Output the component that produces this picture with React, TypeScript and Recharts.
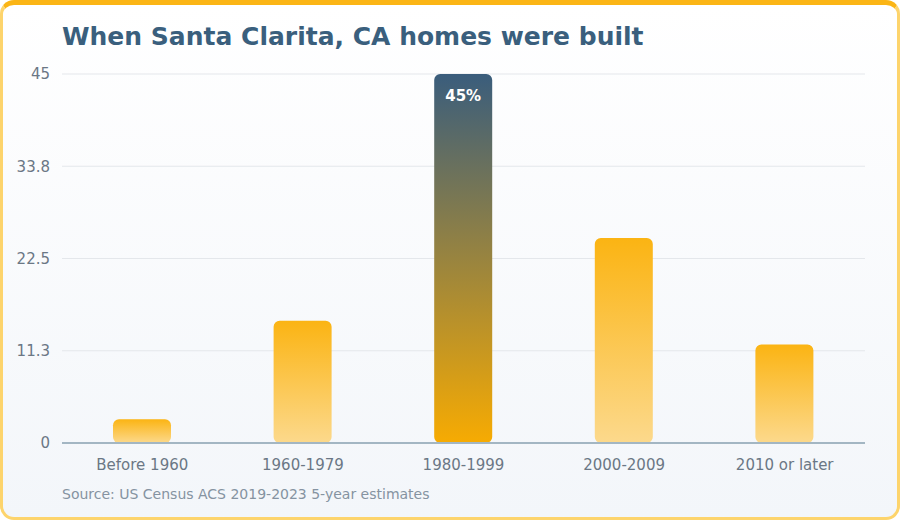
import React from 'react';
import { BarChart, Bar, XAxis, YAxis, CartesianGrid, Cell, LabelList } from 'recharts';

const categories = ['Before 1960', '1960-1979', '1980-1999', '2000-2009', '2010 or later'];
const shares = [2.9, 14.9, 45, 25.0, 12.0];
const yTicks = [0, 11.25, 22.5, 33.75, 45];
const yTickLabels = ['0', '11.3', '22.5', '33.8', '45'];
const highlightIndex = 2;

const data = categories.map((name, i) => ({ name, value: shares[i] }));

const FONT = '"DejaVu Sans", Verdana, sans-serif';

const PeakLabel = (props: any) => {
    const { x, y, width, index, value } = props;
    if (index !== highlightIndex) return null;
    return (
        <text
            x={x + width / 2}
            y={y + 22}
            textAnchor="middle"
            dominantBaseline="middle"
            fill="#ffffff"
            fontSize={15}
            fontWeight="bold"
            fontFamily={FONT}
        >
            {`${value}%`}
        </text>
    );
};

export default function App() {
    return (
        <div
            style={{
                position: 'relative',
                width: 900,
                height: 520,
                boxSizing: 'border-box',
                border: '3px solid #fdd46c',
                borderTop: '5px solid #fbb515',
                borderRadius: 14,
                background: 'linear-gradient(180deg, #ffffff 0%, #f3f6fa 100%)',
                overflow: 'hidden',
                fontFamily: FONT,
            }}
        >
            <style>{'body{margin:0}'}</style>
            <div style={{ position: 'absolute', left: -3, top: -5, width: 900, height: 520 }}>
                <BarChart
                    width={900}
                    height={520}
                    data={data}
                    margin={{ top: 74, right: 35, bottom: 47, left: 0 }}
                    barSize={58}
                >
                    <defs>
                        <linearGradient id="goldBar" x1="0" y1="0" x2="0" y2="1">
                            <stop offset="0%" stopColor="#fbb413" />
                            <stop offset="100%" stopColor="#fcd98c" />
                        </linearGradient>
                        <linearGradient id="peakBar" x1="0" y1="0" x2="0" y2="1">
                            <stop offset="0%" stopColor="#3a5d7c" />
                            <stop offset="100%" stopColor="#f7ab02" />
                        </linearGradient>
                    </defs>
                    <CartesianGrid vertical={false} stroke="#e4e7eb" />
                    <XAxis
                        dataKey="name"
                        height={30}
                        tickLine={false}
                        axisLine={{ stroke: '#a3b6c3', strokeWidth: 2 }}
                        tick={{ fill: '#6b7785', fontSize: 15, fontFamily: FONT }}
                        tickMargin={10}
                    />
                    <YAxis
                        width={62}
                        domain={[0, 45]}
                        ticks={yTicks}
                        tickFormatter={(v: number) => yTickLabels[yTicks.indexOf(v)] ?? String(v)}
                        tickLine={false}
                        axisLine={false}
                        tick={{ fill: '#6b7785', fontSize: 15, fontFamily: FONT }}
                        tickMargin={6}
                    />
                    <Bar dataKey="value" radius={[6, 6, 6, 6]} isAnimationActive={false}>
                        {data.map((_, i) => (
                            <Cell key={`c-${i}`} fill={i === highlightIndex ? 'url(#peakBar)' : 'url(#goldBar)'} />
                        ))}
                        <LabelList dataKey="value" content={<PeakLabel />} />
                    </Bar>
                </BarChart>
            </div>
            <div
                style={{
                    position: 'absolute',
                    left: 59,
                    top: 17,
                    fontSize: 25,
                    fontWeight: 'bold',
                    color: '#3a5f7d',
                    whiteSpace: 'nowrap',
                }}
            >
                When Santa Clarita, CA homes were built
            </div>
            <div
                style={{
                    position: 'absolute',
                    left: 59,
                    top: 481,
                    fontSize: 14,
                    color: '#8593a1',
                    whiteSpace: 'nowrap',
                }}
            >
                Source: US Census ACS 2019-2023 5-year estimates
            </div>
        </div>
    );
}
